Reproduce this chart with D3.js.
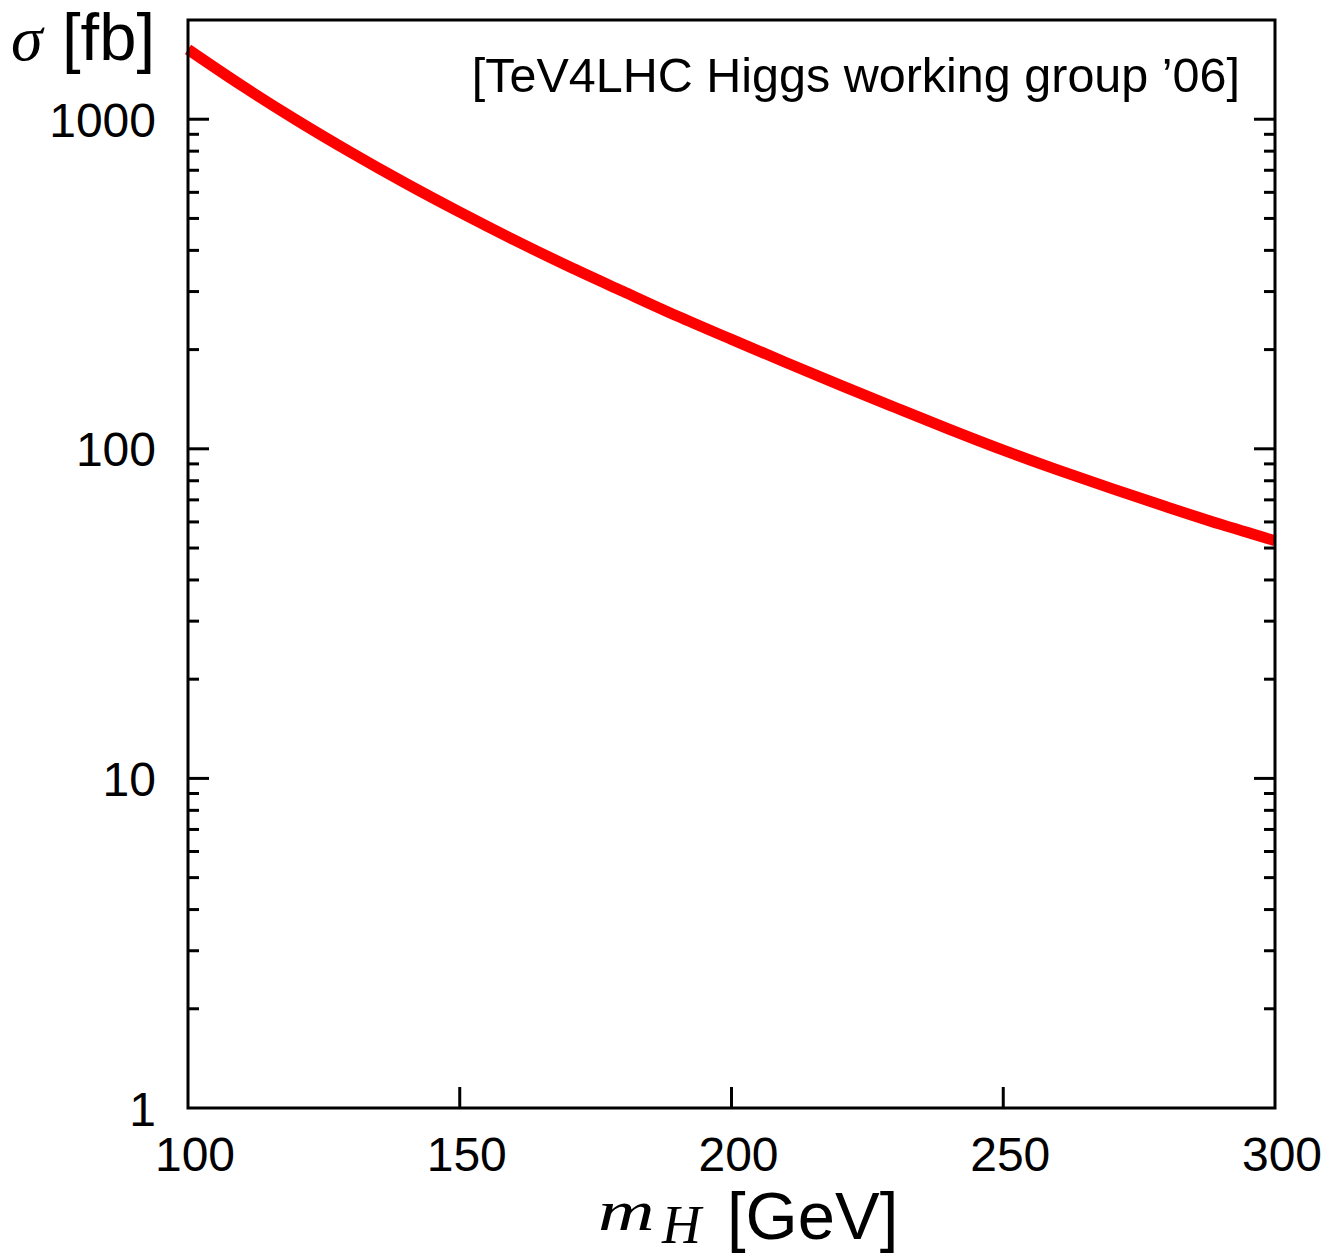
<!DOCTYPE html>
<html>
<head>
<meta charset="utf-8">
<script src="https://cdn.jsdelivr.net/npm/d3@7"></script>
<style>
  html, body { margin: 0; padding: 0; background: #fff; }
  svg { display: block; }
</style>
</head>
<body>
<script>
// Higgs mass points (GeV) and cross section (fb)
const massGeV = [100, 110, 120, 130, 140, 150, 160, 170, 180, 190, 200,
                 210, 220, 230, 240, 250, 260, 270, 280, 290, 300];
const sigmaFb = [1629, 1262, 993, 792.5, 639.7, 522.4, 430.5, 358, 300.6, 252.9, 214.8,
                 182.8, 156.0, 133.7, 114.8, 99.1, 86.3, 75.7, 66.7, 59.0, 52.6];

const xTickValues = [100, 150, 200, 250, 300];
const yTickValues = [1, 10, 100, 1000];
const annotation = "[TeV4LHC Higgs working group \u201906]";

const W = 1326, H = 1255;
const plot = { left: 188, right: 1275, top: 20, bottom: 1108 };

const svg = d3.select("body").append("svg")
  .attr("width", W).attr("height", H);

const x = d3.scaleLinear().domain([100, 300]).range([plot.left, plot.right]);
const y = d3.scaleLog().domain([1, 2000]).range([plot.bottom, plot.top]);

const sans = "'Liberation Sans', Arial, Helvetica, sans-serif";
const serif = "'Liberation Serif', 'Times New Roman', serif";

// minor ticks: 2..9 within each decade
const minorY = [];
for (let d = 1; d <= 1000; d *= 10) {
  for (let k = 2; k <= 9; k++) {
    const v = k * d;
    if (v < 2000) minorY.push(v);
  }
}

// cross-section curve
const line = d3.line()
  .x((d, i) => x(massGeV[i]))
  .y(d => y(d))
  .curve(d3.curveCatmullRom.alpha(0.5));

svg.append("path")
  .datum(sigmaFb)
  .attr("d", line)
  .attr("fill", "none")
  .attr("stroke", "#ff0000")
  .attr("stroke-width", 11)
  .attr("stroke-linejoin", "round");

// ticks, inside the frame on left and right
const tickG = svg.append("g").attr("stroke", "#000").attr("stroke-width", 3);
yTickValues.filter(v => v > 1).forEach(v => {
  tickG.append("line").attr("x1", plot.left).attr("x2", plot.left + 21)
    .attr("y1", y(v)).attr("y2", y(v));
  tickG.append("line").attr("x1", plot.right).attr("x2", plot.right - 21)
    .attr("y1", y(v)).attr("y2", y(v));
});
minorY.forEach(v => {
  tickG.append("line").attr("x1", plot.left).attr("x2", plot.left + 11)
    .attr("y1", y(v)).attr("y2", y(v));
  tickG.append("line").attr("x1", plot.right).attr("x2", plot.right - 11)
    .attr("y1", y(v)).attr("y2", y(v));
});
xTickValues.filter(v => v > 100 && v < 300).forEach(v => {
  tickG.append("line").attr("x1", x(v)).attr("x2", x(v))
    .attr("y1", plot.bottom).attr("y2", plot.bottom - 21);
});

// frame
svg.append("rect")
  .attr("x", plot.left).attr("y", plot.top)
  .attr("width", plot.right - plot.left).attr("height", plot.bottom - plot.top)
  .attr("fill", "none").attr("stroke", "#000").attr("stroke-width", 3);

// tick labels
svg.append("g").selectAll("text").data(yTickValues).join("text")
  .attr("x", 156).attr("y", d => y(d) + 17.5)
  .attr("text-anchor", "end")
  .attr("font-family", sans).attr("font-size", 48)
  .text(d => d3.format("d")(d));

svg.append("g").selectAll("text").data(xTickValues).join("text")
  .attr("x", d => x(d) + 7).attr("y", 1171)
  .attr("text-anchor", "middle")
  .attr("font-family", sans).attr("font-size", 48)
  .text(d => d);

// y-axis title: sigma [fb]
svg.append("text").attr("x", 11).attr("y", 60)
  .attr("font-family", serif).attr("font-style", "italic").attr("font-size", 64)
  .text("\u03c3");
svg.append("text").attr("x", 62).attr("y", 60)
  .attr("font-family", sans).attr("font-size", 67)
  .text("[fb]");

// x-axis title: m_H [GeV]
svg.append("text")
  .attr("transform", "translate(598,1230) scale(1.35,1)")
  .attr("font-family", serif).attr("font-style", "italic").attr("font-size", 58)
  .text("m");
svg.append("text").attr("x", 662).attr("y", 1243)
  .attr("font-family", serif).attr("font-style", "italic").attr("font-size", 54)
  .text("H");
svg.append("text").attr("x", 727).attr("y", 1239)
  .attr("font-family", sans).attr("font-size", 67)
  .text("[GeV]");

// annotation
svg.append("text").attr("x", 1240).attr("y", 92)
  .attr("text-anchor", "end")
  .attr("font-family", sans).attr("font-size", 48.5)
  .text(annotation);
</script>
</body>
</html>
